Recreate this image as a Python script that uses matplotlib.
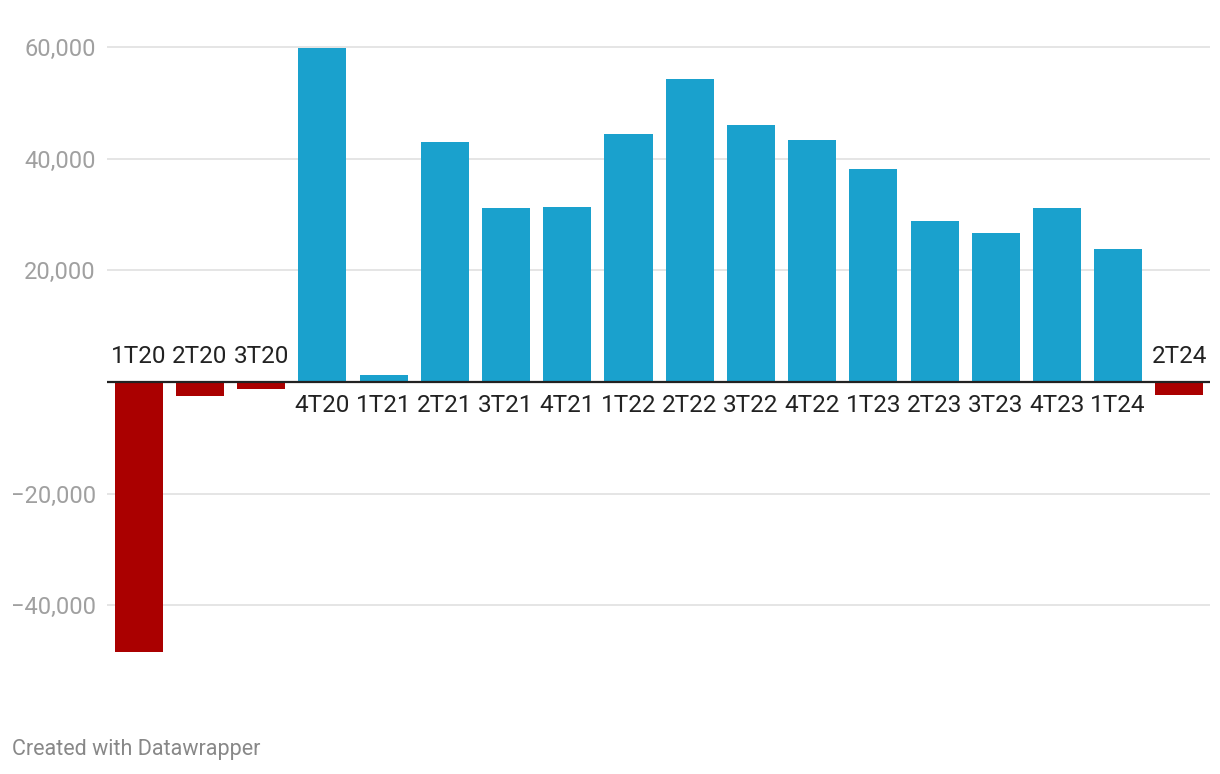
import matplotlib.pyplot as plt
from matplotlib.ticker import FuncFormatter

# quarterly values
quarters = ["1T20", "2T20", "3T20", "4T20", "1T21", "2T21", "3T21", "4T21",
            "1T22", "2T22", "3T22", "4T22", "1T23", "2T23", "3T23", "4T23",
            "1T24", "2T24"]
values = [-48400, -2500, -1300, 59800, 1250, 42900, 31100, 31400,
          44500, 54300, 46100, 43400, 38200, 28750, 26600, 31100,
          23750, -2400]
y_ticks = [-40000, -20000, 20000, 40000, 60000]

BLUE = "#1aa1cd"
RED = "#aa0000"

plt.rcParams["font.family"] = ["Roboto", "DejaVu Sans"]

W, H = 1220, 774
fig = plt.figure(figsize=(W / 100, H / 100), dpi=100)
# axes spans x 107..1210 px, y 40..660 px
ax = fig.add_axes([107 / W, 1 - 660 / H, (1210 - 107) / W, 620 / H])

colors = [BLUE if v >= 0 else RED for v in values]
x = list(range(len(quarters)))
ax.bar(x, values, width=0.785, color=colors, zorder=2)

ax.set_xlim(-0.52, len(quarters) - 0.5)
ax.set_ylim(-49800, 61250)

ax.set_yticks(y_ticks)
ax.yaxis.set_major_formatter(
    FuncFormatter(lambda v, _: f"{v:,.0f}".replace("-", "\u2212")))
ax.tick_params(axis="y", length=0, pad=8, labelsize=17, labelcolor="#a0a0a0")
ax.set_xticks([])
ax.grid(axis="y", color="#e5e5e5", linewidth=1.4, zorder=0)
ax.axhline(0, color="#222222", linewidth=1.6, zorder=3)
for s in ax.spines.values():
    s.set_visible(False)

# labels sit on the opposite side of the zero line from the bar
for xi, (q, v) in enumerate(zip(quarters, values)):
    if v < 0:
        ax.annotate(q, (xi, 0), xytext=(0, 10), textcoords="offset points",
                    ha="center", va="bottom", fontsize=17.5, color="#222222")
    else:
        ax.annotate(q, (xi, 0), xytext=(0, -9), textcoords="offset points",
                    ha="center", va="top", fontsize=17.5, color="#222222")

fig.text(12 / W, 1 - 750 / H, "Created with Datawrapper", fontsize=15.5,
         color="#888888", va="center", ha="left")

fig.savefig("out.png", dpi=100, facecolor="white")
